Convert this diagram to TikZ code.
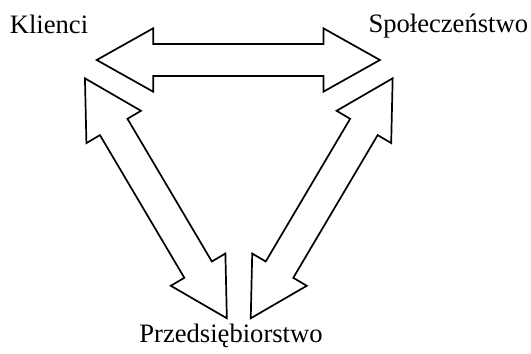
\documentclass[tikz,border=0pt]{standalone}
\usepackage{fontspec}
\setmainfont{Liberation Serif}

\tikzset{
    blockarrow/.style={draw, line width=1.7pt, line join=miter, fill=white},
    nazwa/.style={anchor=base, inner sep=0pt, font=\fontsize{26.6}{30}\selectfont}
}

\begin{document}
\begin{tikzpicture}[x=1pt,y=1pt]
    \useasboundingbox (0,0) rectangle (531,354);
    % block arrows: centre / angle / half length
    \foreach \c/\a/\l in {{238.3,294}/0/141.6, {155.9,155.7}/-59.4/139.4, {321.7,155.7}/59.4/139.4}{
        \begin{scope}[shift={(\c)}, rotate=\a]
            \draw[blockarrow] (-\l,0) -- (-\l+56.5,31.7) -- (-\l+56.5,16)
                -- (\l-56.5,16) -- (\l-56.5,31.7) -- (\l,0)
                -- (\l-56.5,-31.7) -- (\l-56.5,-16)
                -- (-\l+56.5,-16) -- (-\l+56.5,-31.7) -- cycle;
        \end{scope}
    }
    \node[nazwa] (klienci) at (49,320) {Klienci};
    \node[nazwa] (spol) at (448.3,321) {Społeczeństwo};
    \node[nazwa] (przeds) at (231,11) {Przedsiębiorstwo};
\end{tikzpicture}
\end{document}
